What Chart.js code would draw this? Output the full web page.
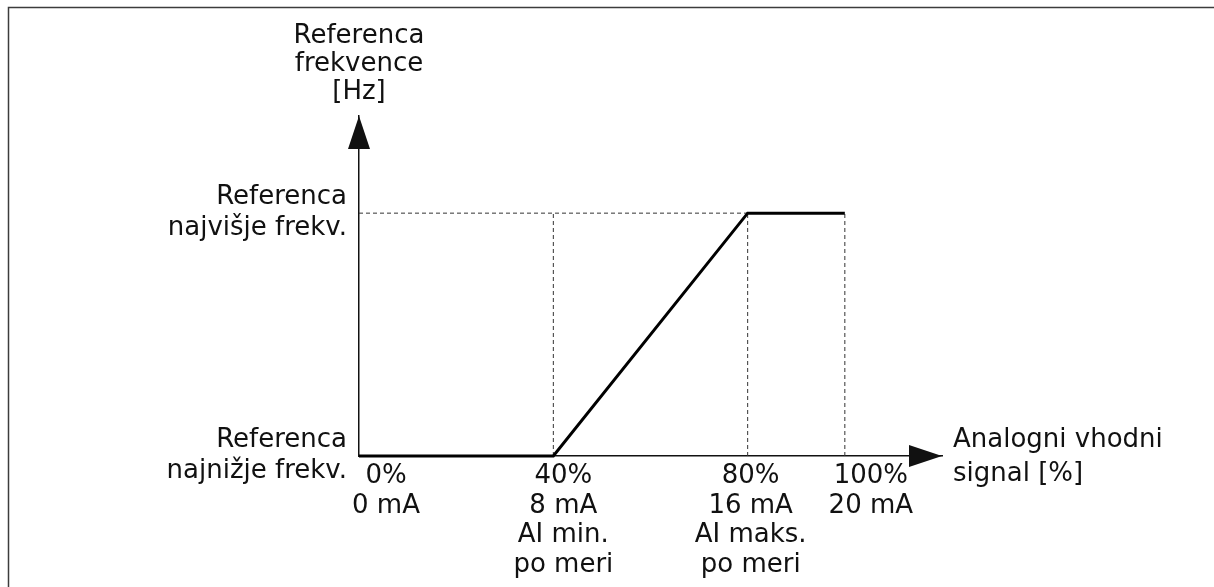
<!DOCTYPE html>
<html>
<head>
<meta charset="utf-8">
<script src="https://cdn.jsdelivr.net/npm/chart.js@4.4.1/dist/chart.umd.min.js"></script>
<style>
  html, body { margin: 0; padding: 0; background: #fff; }
  canvas { display: block; }
</style>
</head>
<body>
<canvas id="c" width="1214" height="587"></canvas>
<script>
// Analog input signal (%) and the frequency reference it produces (0 = min, 1 = max)
const inputPercent = [0, 40, 80, 100];
const referenceLevel = [0, 0, 1, 1];

// Tick positions and labels
const xTickValues = [0, 40, 80, 100];
const xTickLabels = [
  ['0%', '0 mA'],
  ['40%', '8 mA', 'AI min.', 'po meri'],
  ['80%', '16 mA', 'AI maks.', 'po meri'],
  ['100%', '20 mA']
];
const yTickValues = [0, 1];
const yTickLabels = [
  ['Referenca', 'najnižje frekv.'],
  ['Referenca', 'najvišje frekv.']
];
const yAxisTitle = ['Referenca', 'frekvence', '[Hz]'];
const xAxisTitle = ['Analogni vhodni', 'signal [%]'];

const FONT = '"DejaVu Sans", Verdana, sans-serif';
const FONT_SIZE = 26;
const INK = '#111';

// Dashed guides: verticals at every break point after the start, and the
// horizontal at the top level up to where the curve reaches it.
const topLevel = Math.max(...referenceLevel);
const reachTop = inputPercent[referenceLevel.indexOf(topLevel)];
const guideSets = inputPercent.slice(1).map(x => [{ x, y: 0 }, { x, y: topLevel }]);
guideSets.push([{ x: 0, y: topLevel }, { x: reachTop, y: topLevel }]);

const curve = inputPercent.map((x, i) => ({ x, y: referenceLevel[i] }));

const guideDatasets = guideSets.map(pts => ({
  data: pts,
  borderColor: '#333',
  borderWidth: 1,
  borderDash: [4, 3],
  pointRadius: 0,
  clip: false,
  order: 2
}));

// Per-column horizontal nudge of the x tick label blocks
const xLabelNudge = [27, 10, 3, 26];

const decorations = {
  id: 'decorations',
  beforeDraw(chart) {
    const ctx = chart.ctx;
    ctx.save();
    ctx.fillStyle = '#fff';
    ctx.fillRect(0, 0, chart.width, chart.height);
    // outer frame (top and left edges)
    ctx.strokeStyle = '#3c3c3c';
    ctx.lineWidth = 1.5;
    ctx.beginPath();
    ctx.moveTo(8.5, chart.height + 5);
    ctx.lineTo(8.5, 7.5);
    ctx.lineTo(chart.width + 5, 7.5);
    ctx.stroke();
    ctx.restore();
  },
  afterDraw(chart) {
    const ctx = chart.ctx;
    const { left, right, top, bottom } = chart.chartArea;
    const xs = chart.scales.x;
    ctx.save();
    ctx.fillStyle = INK;

    // arrow heads at the ends of both axes
    ctx.beginPath();
    ctx.moveTo(left, top);
    ctx.lineTo(left - 11, top + 33);
    ctx.lineTo(left + 11, top + 33);
    ctx.closePath();
    ctx.fill();
    ctx.beginPath();
    ctx.moveTo(right, bottom);
    ctx.lineTo(right - 33, bottom - 11);
    ctx.lineTo(right - 33, bottom + 11);
    ctx.closePath();
    ctx.fill();

    ctx.font = FONT_SIZE + 'px ' + FONT;
    ctx.textBaseline = 'alphabetic';

    // y axis title above the arrow
    ctx.textAlign = 'center';
    yAxisTitle.forEach((t, i) => ctx.fillText(t, left, 43 + i * 28));

    // x axis title after the arrow
    ctx.textAlign = 'left';
    xAxisTitle.forEach((t, i) => ctx.fillText(t, right + 11, bottom - 9 + i * 34));

    // x tick label blocks
    ctx.textAlign = 'center';
    xTickValues.forEach((v, i) => {
      const cx = xs.getPixelForValue(v) + xLabelNudge[i];
      xTickLabels[i].forEach((t, j) => ctx.fillText(t, cx, bottom + 27 + j * 29.5));
    });
    ctx.restore();
  }
};

new Chart(document.getElementById('c'), {
  type: 'line',
  data: {
    datasets: [
      {
        data: curve,
        borderColor: '#000',
        borderWidth: 3,
        pointRadius: 0,
        tension: 0,
        clip: false,
        order: 1
      },
      ...guideDatasets
    ]
  },
  options: {
    responsive: false,
    animation: false,
    events: [],
    layout: { padding: { left: 0, top: 116, right: 272, bottom: 0 } },
    plugins: { legend: { display: false }, tooltip: { enabled: false } },
    scales: {
      x: {
        type: 'linear',
        min: 0,
        max: 120,
        grid: { display: false, drawTicks: false },
        border: { display: true, color: INK, width: 1.5 },
        ticks: { display: false },
        afterBuildTicks(scale) { scale.ticks = xTickValues.map(value => ({ value })); },
        afterFit(scale) { scale.height = 131; }
      },
      y: {
        type: 'linear',
        min: 0,
        max: 1.4,
        grid: { display: false, drawTicks: false },
        border: { display: true, color: INK, width: 1.5 },
        ticks: {
          padding: 12,
          color: INK,
          font: { family: FONT, size: FONT_SIZE, lineHeight: 1.2 },
          callback: (value, index) => yTickLabels[index]
        },
        afterBuildTicks(scale) { scale.ticks = yTickValues.map(value => ({ value })); },
        afterFit(scale) { scale.width = 359; }
      }
    }
  },
  plugins: [decorations]
});
</script>
</body>
</html>
